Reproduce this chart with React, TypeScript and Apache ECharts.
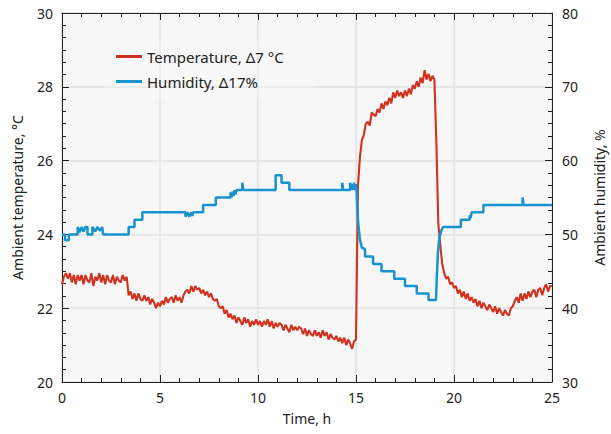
import React, { useEffect, useRef } from "react";
import * as echarts from "echarts";

// Sampling interval of the temperature record, hours
const TIME_STEP_H = 0.1;

// Ambient temperature, °C — one reading every 0.1 h from t = 0 to t = 25 h
const temperature: number[] = [
  // 0.0 – 0.9
  22.65, 22.85, 22.95, 22.8, 22.95, 22.7, 22.9, 22.65, 22.9, 22.75,
  // 1.0 – 1.9
  22.9, 22.65, 22.9, 22.75, 22.7, 22.95, 22.6, 22.85, 22.75, 22.95,
  // 2.0 – 2.9
  22.7, 22.9, 22.65, 22.9, 22.75, 22.7, 22.9, 22.65, 22.85, 22.75,
  // 3.0 – 3.9
  22.7, 22.9, 22.75, 22.85, 22.35, 22.45, 22.25, 22.4, 22.2, 22.4,
  // 4.0 – 4.9
  22.25, 22.2, 22.35, 22.2, 22.3, 22.1, 22.25, 22.15, 22.0, 22.15,
  // 5.0 – 5.9
  22.05, 22.2, 22.1, 22.3, 22.15, 22.25, 22.3, 22.15, 22.35, 22.2,
  // 6.0 – 6.9
  22.3, 22.15, 22.35, 22.45, 22.5, 22.4, 22.6, 22.45, 22.6, 22.5,
  // 7.0 – 7.9
  22.55, 22.4, 22.5, 22.35, 22.45, 22.3, 22.4, 22.25, 22.2, 22.25,
  // 8.0 – 8.9
  22.05, 22.0, 22.05, 21.85, 21.95, 21.75, 21.85, 21.7, 21.8, 21.6,
  // 9.0 – 9.9
  21.75, 21.65, 21.55, 21.75, 21.6, 21.7, 21.5, 21.65, 21.55, 21.7,
  // 10.0 – 10.9
  21.55, 21.65, 21.5, 21.65, 21.55, 21.7, 21.5, 21.65, 21.45, 21.6,
  // 11.0 – 11.9
  21.5, 21.6, 21.55, 21.4, 21.55, 21.45, 21.35, 21.55, 21.4, 21.5,
  // 12.0 – 12.9
  21.4, 21.5, 21.45, 21.3, 21.45, 21.25, 21.4, 21.3, 21.25, 21.4,
  // 13.0 – 13.9
  21.25, 21.35, 21.2, 21.4, 21.25, 21.35, 21.15, 21.3, 21.2, 21.15,
  // 14.0 – 14.9
  21.25, 21.1, 21.2, 21.05, 21.2, 21.0, 21.15, 21.05, 20.9, 21.1,
  // 15.0 – 15.9
  21.15, 25.3, 26.1, 26.55, 26.7, 27.0, 27.05, 26.95, 27.3, 27.25,
  // 16.0 – 16.9
  27.2, 27.4, 27.3, 27.55, 27.4, 27.6, 27.5, 27.7, 27.55, 27.85,
  // 17.0 – 17.9
  27.7, 27.9, 27.75, 27.85, 27.7, 27.9, 27.75, 27.95, 27.8, 28.05,
  // 18.0 – 18.9
  27.95, 28.15, 28.0, 28.25, 28.1, 28.45, 28.2, 28.35, 28.15, 28.3,
  // 19.0 – 19.9
  28.2, 26.5, 24.3, 23.7, 23.2, 22.95, 22.8, 22.85, 22.65, 22.7,
  // 20.0 – 20.9
  22.55, 22.6, 22.4, 22.5, 22.3, 22.45, 22.25, 22.4, 22.2, 22.3,
  // 21.0 – 21.9
  22.15, 22.25, 22.05, 22.2, 22.0, 22.15, 22.05, 21.95, 22.1, 22.0,
  // 22.0 – 22.9
  21.9, 22.05, 21.85, 22.0, 21.9, 21.8, 21.95, 21.85, 21.8, 22.0,
  // 23.0 – 23.9
  22.05, 22.2, 22.3, 22.15, 22.4, 22.2, 22.4, 22.25, 22.45, 22.3,
  // 24.0 – 24.9
  22.45, 22.5, 22.3, 22.5, 22.55, 22.35, 22.55, 22.65, 22.45, 22.6,
  // 25.0
  22.6,
];

// Ambient humidity, % — [time h, value %] (stepwise logger readings)
const humidity: [number, number][] = [
  [0, 50], [0.15, 50], [0.15, 49.2], [0.35, 49.2], [0.35, 50], [0.8, 50],
  [0.8, 51], [0.9, 50.3], [1.0, 51], [1.1, 50.4], [1.2, 51], [1.3, 51], [1.3, 50],
  [1.55, 50], [1.55, 51], [1.7, 50.4], [1.8, 51], [1.95, 50.5], [2.05, 51], [2.1, 50],
  [3.4, 50], [3.4, 51], [3.7, 51], [3.7, 52], [4.1, 52], [4.1, 53],
  [6.3, 53], [6.3, 52.4], [6.4, 53], [6.5, 52.4], [6.6, 53], [6.65, 52.5], [6.7, 53],
  [7.2, 53], [7.2, 54], [7.85, 54], [7.85, 55],
  [8.6, 55], [8.6, 55.7], [8.65, 55], [8.7, 55.8], [8.75, 55.2], [8.8, 56], [8.85, 55.4], [8.9, 56],
  [9.2, 56], [9.2, 57], [9.25, 56],
  [10.9, 56], [10.9, 58], [11.2, 58], [11.2, 57], [11.6, 57], [11.6, 56],
  [14.3, 56], [14.3, 57], [14.35, 56], [14.7, 56], [14.7, 57], [14.75, 56],
  [14.8, 56.8], [14.85, 56], [14.9, 57], [14.95, 56], [15.0, 56.8], [15.03, 56],
  [15.06, 54], [15.1, 52], [15.15, 50.5], [15.2, 49.3], [15.3, 48.2],
  [15.46, 48], [15.46, 47], [15.87, 47], [15.87, 46], [16.3, 46], [16.3, 45],
  [16.95, 45], [16.95, 44], [17.5, 44], [17.5, 43], [18.1, 43], [18.1, 42],
  [18.7, 42], [18.7, 41.1], [19.08, 41.1],
  [19.12, 44], [19.18, 47.5], [19.25, 49.5], [19.35, 50.5], [19.45, 51],
  [20.35, 51], [20.35, 52], [20.8, 52], [20.8, 52.6], [20.85, 52.2], [20.9, 53],
  [21.5, 53], [21.5, 54], [23.5, 54], [23.5, 55], [23.55, 54], [25, 54],
];

const TIME_RANGE: [number, number] = [0, 25];
const TEMP_RANGE: [number, number] = [20, 30];
const HUM_RANGE: [number, number] = [30, 80];

const SERIES_NAMES = ["Temperature, \u03947 \u00b0C", "Humidity, \u039417%"];
const AXIS_NAMES = { x: "Time, h", yLeft: "Ambient temperature, \u00b0C", yRight: "Ambient humidity, %" };

const RED = "#d1321f";
const BLUE = "#1793cf";
const FONT = "Noto Sans";
const INK = "#222222";

export default function App() {
  const ref = useRef<HTMLDivElement>(null);

  useEffect(() => {
    if (!ref.current) return;
    const chart = echarts.init(ref.current, undefined, { renderer: "svg" });

    const tempData = temperature.map((v, i) => [Math.round(i * TIME_STEP_H * 100) / 100, v]);

    const tickCommon = {
      axisLine: { show: true, onZero: false, lineStyle: { color: INK, width: 1 } },
      axisTick: { show: true, inside: true, length: 7, lineStyle: { color: INK, width: 1 } },
      axisLabel: { color: INK, fontSize: 14, fontFamily: FONT },
      nameTextStyle: { color: INK, fontSize: 14, fontFamily: FONT },
    };

    chart.setOption({
      animation: false,
      backgroundColor: "#ffffff",
      textStyle: { fontFamily: FONT },
      grid: {
        left: 62,
        right: 59,
        top: 13,
        bottom: 52,
        show: true,
        backgroundColor: "#f7f7f7",
        borderWidth: 0,
        containLabel: false,
        outerBoundsMode: "none",
      },
      legend: {
        show: true,
        orient: "vertical",
        left: 104,
        top: 39,
        padding: [10, 30, 10, 12],
        itemGap: 10,
        itemWidth: 26,
        itemHeight: 3,
        icon: "rect",
        backgroundColor: "rgba(255,255,255,0.2)",
        textStyle: { color: INK, fontSize: 15, fontFamily: FONT },
        data: SERIES_NAMES,
      },
      xAxis: [
        {
          type: "value",
          min: TIME_RANGE[0],
          max: TIME_RANGE[1],
          interval: 5,
          position: "bottom",
          name: AXIS_NAMES.x,
          nameLocation: "middle",
          nameGap: 29,
          ...tickCommon,
          axisLabel: { ...tickCommon.axisLabel, margin: 8 },
          minorTick: { show: true, splitNumber: 5, length: 4, lineStyle: { color: INK, width: 1 } },
          splitLine: { show: true, lineStyle: { color: "#e2e2e2", width: 1.5 } },
        },
        {
          type: "value",
          min: TIME_RANGE[0],
          max: TIME_RANGE[1],
          interval: 5,
          position: "top",
          ...tickCommon,
          axisLabel: { show: false },
          minorTick: { show: true, splitNumber: 5, length: 4, lineStyle: { color: INK, width: 1 } },
          splitLine: { show: false },
        },
      ],
      yAxis: [
        {
          type: "value",
          min: TEMP_RANGE[0],
          max: TEMP_RANGE[1],
          interval: 2,
          position: "left",
          name: AXIS_NAMES.yLeft,
          nameLocation: "middle",
          nameGap: 38,
          ...tickCommon,
          axisLabel: { ...tickCommon.axisLabel, margin: 9 },
          minorTick: { show: true, splitNumber: 6, length: 4, lineStyle: { color: INK, width: 1 } },
          splitLine: { show: true, lineStyle: { color: "#e2e2e2", width: 1.5 } },
        },
        {
          type: "value",
          min: HUM_RANGE[0],
          max: HUM_RANGE[1],
          interval: 10,
          position: "right",
          name: AXIS_NAMES.yRight,
          nameLocation: "middle",
          nameGap: 40,
          ...tickCommon,
          axisLabel: { ...tickCommon.axisLabel, margin: 10 },
          minorTick: { show: true, splitNumber: 6, length: 4, lineStyle: { color: INK, width: 1 } },
          splitLine: { show: false },
        },
      ],
      series: [
        {
          name: SERIES_NAMES[0],
          type: "line",
          xAxisIndex: 0,
          yAxisIndex: 0,
          data: tempData,
          showSymbol: false,
          symbol: "none",
          itemStyle: { color: RED },
          lineStyle: { color: RED, width: 2.1 },
          z: 2,
        },
        {
          name: SERIES_NAMES[1],
          type: "line",
          xAxisIndex: 0,
          yAxisIndex: 1,
          data: humidity,
          showSymbol: false,
          symbol: "none",
          itemStyle: { color: BLUE },
          lineStyle: { color: BLUE, width: 2.5 },
          z: 3,
        },
      ],
    });

    return () => chart.dispose();
  }, []);

  return <div ref={ref} style={{ width: 611, height: 434, position: "absolute", left: 0, top: 0 }} />;
}
